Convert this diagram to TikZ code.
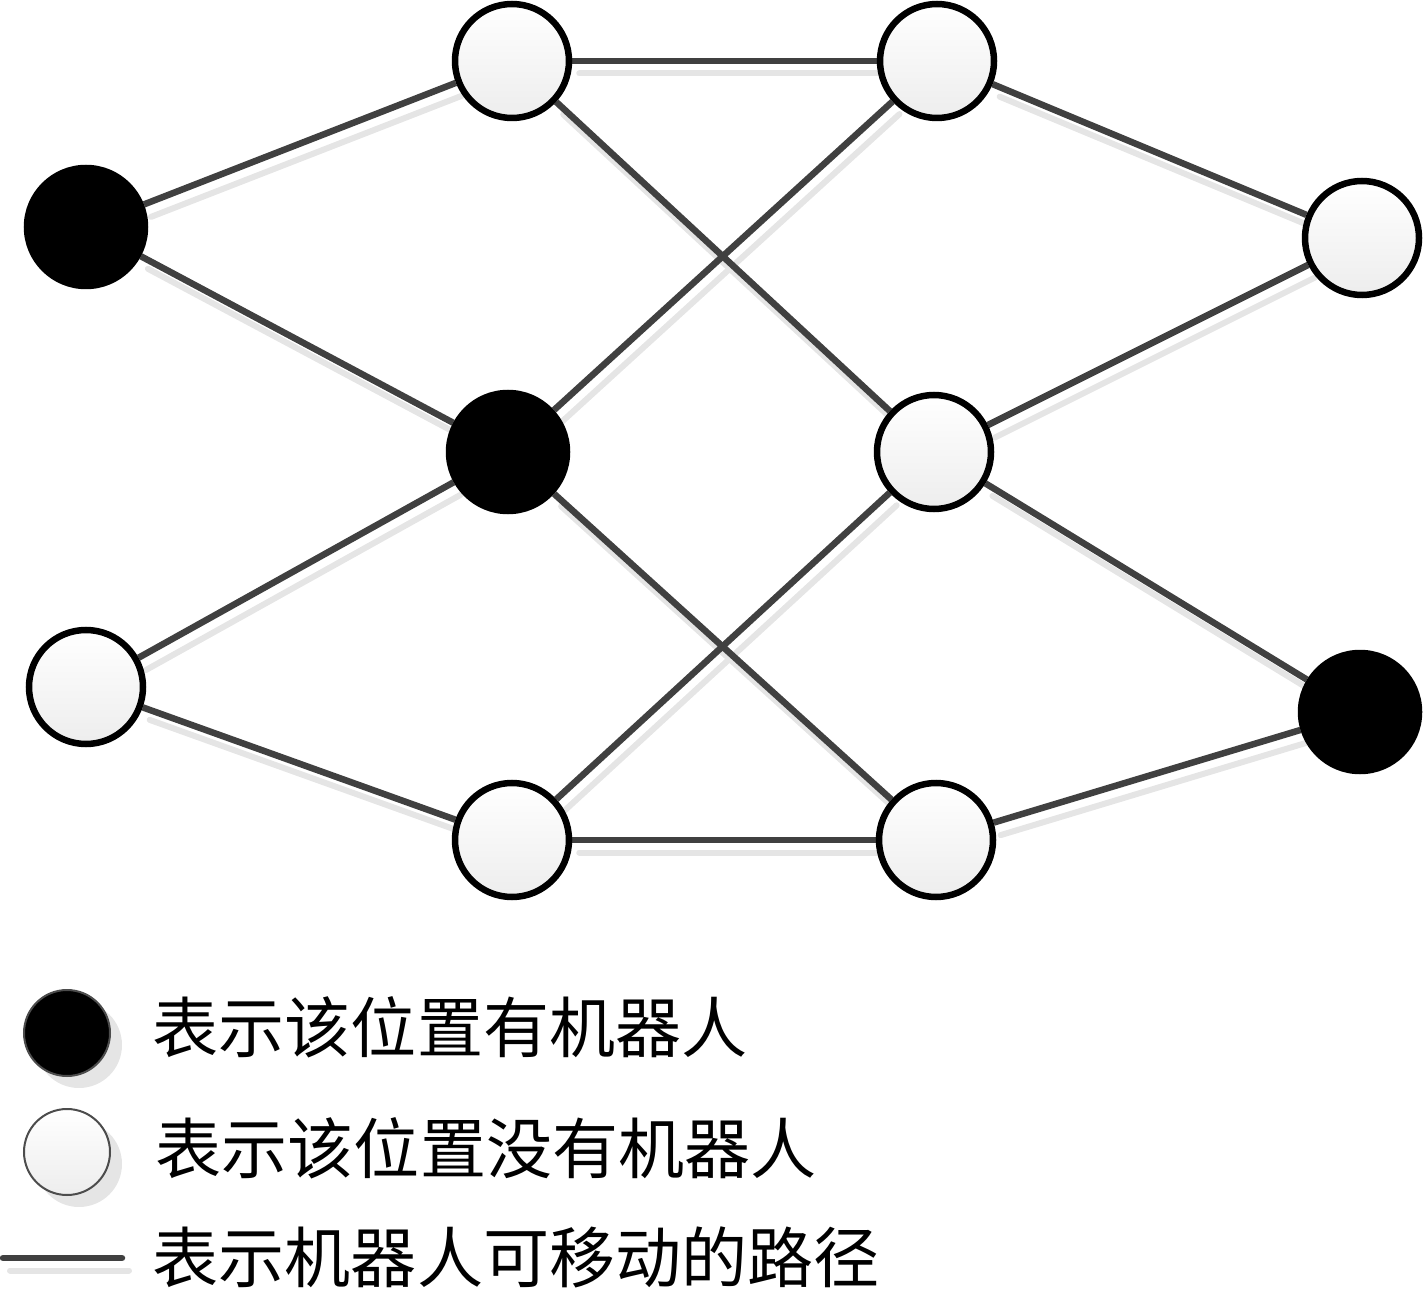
\documentclass[tikz,border=0pt]{standalone}
\usepackage{fontspec}
\newfontfamily\cjk{Noto Sans CJK SC}
\usetikzlibrary{backgrounds,shadows}
\tikzset{
  robot/.style={circle, fill=black, draw=black, line width=0.065cm, minimum size=1.18cm, inner sep=0pt},
  free/.style={circle, draw=black, line width=0.065cm, top color=white, bottom color=black!7, minimum size=1.14cm, inner sep=0pt},
  pathline/.style={draw=black!75, line width=0.065cm},
  pathshadow/.style={draw=black!10, line width=0.06cm, line cap=round},
  shadowshift/.style={transform canvas={shift={(0.07,-0.125)}}},
  legendnode/.style={circle, draw=black!70, line width=0.02cm, minimum size=0.86cm, inner sep=0pt,
    drop shadow={shadow xshift=0.12cm, shadow yshift=-0.12cm, fill=black!10, opacity=1}},
  legendtext/.style={anchor=west, inner sep=0pt, font=\cjk\fontsize{18.8}{22}\selectfont}
}
\begin{document}
\begin{tikzpicture}
  \useasboundingbox (0,0) rectangle (14.26,13.01);
  \begin{scope}
    \node[robot] (l1) at (0.86,10.74) {};
    \node[free]  (l2) at (0.86,6.14) {};
    \node[free]  (m1) at (5.12,12.40) {};
    \node[robot] (m2) at (5.08,8.49) {};
    \node[free]  (m3) at (5.12,4.61) {};
    \node[free]  (r1) at (9.37,12.40) {};
    \node[free]  (r2) at (9.34,8.49) {};
    \node[free]  (r3) at (9.36,4.61) {};
    \node[free]  (e1) at (13.62,10.63) {};
    \node[robot] (e2) at (13.60,5.89) {};
  \end{scope}
  \begin{pgfonlayer}{background}
    \begin{scope}[shadowshift, every edge/.style={pathshadow}]
      \path (l1) edge (m1) (l1) edge (m2) (l2) edge (m2) (l2) edge (m3);
      \path (m1) edge (r1) (m1) edge (r2) (m2) edge (r1) (m2) edge (r3);
      \path (m3) edge (r2) (m3) edge (r3);
      \path (r1) edge (e1) (r2) edge (e1) (r2) edge (e2) (r3) edge (e2);
    \end{scope}
    \begin{scope}[every edge/.style={pathline}]
      \path (l1) edge (m1);
      \path (l1) edge (m2);
      \path (l2) edge (m2);
      \path (l2) edge (m3);
      \path (m1) edge (r1);
      \path (m1) edge (r2);
      \path (m2) edge (r1);
      \path (m2) edge (r3);
      \path (m3) edge (r2);
      \path (m3) edge (r3);
      \path (r1) edge (e1);
      \path (r2) edge (e1);
      \path (r2) edge (e2);
      \path (r3) edge (e2);
    \end{scope}
  \end{pgfonlayer}
  \node[legendnode, fill=black] (k1) at (0.67,2.68) {};
  \node[legendnode, top color=white, bottom color=black!7] (k2) at (0.67,1.49) {};
  \coordinate (k3a) at (0.03,0.43);
  \coordinate (k3b) at (1.22,0.43);
  \begin{scope}[shadowshift]
    \path (k3a) edge[pathshadow] (k3b);
  \end{scope}
  \path (k3a) edge[pathline, line cap=round] (k3b);
  \node[legendtext] (t1) at (1.52,2.74) {表示该位置有机器人};
  \node[legendtext] (t2) at (1.55,1.53) {表示该位置没有机器人};
  \node[legendtext] (t3) at (1.52,0.44) {表示机器人可移动的路径};
\end{tikzpicture}
\end{document}
